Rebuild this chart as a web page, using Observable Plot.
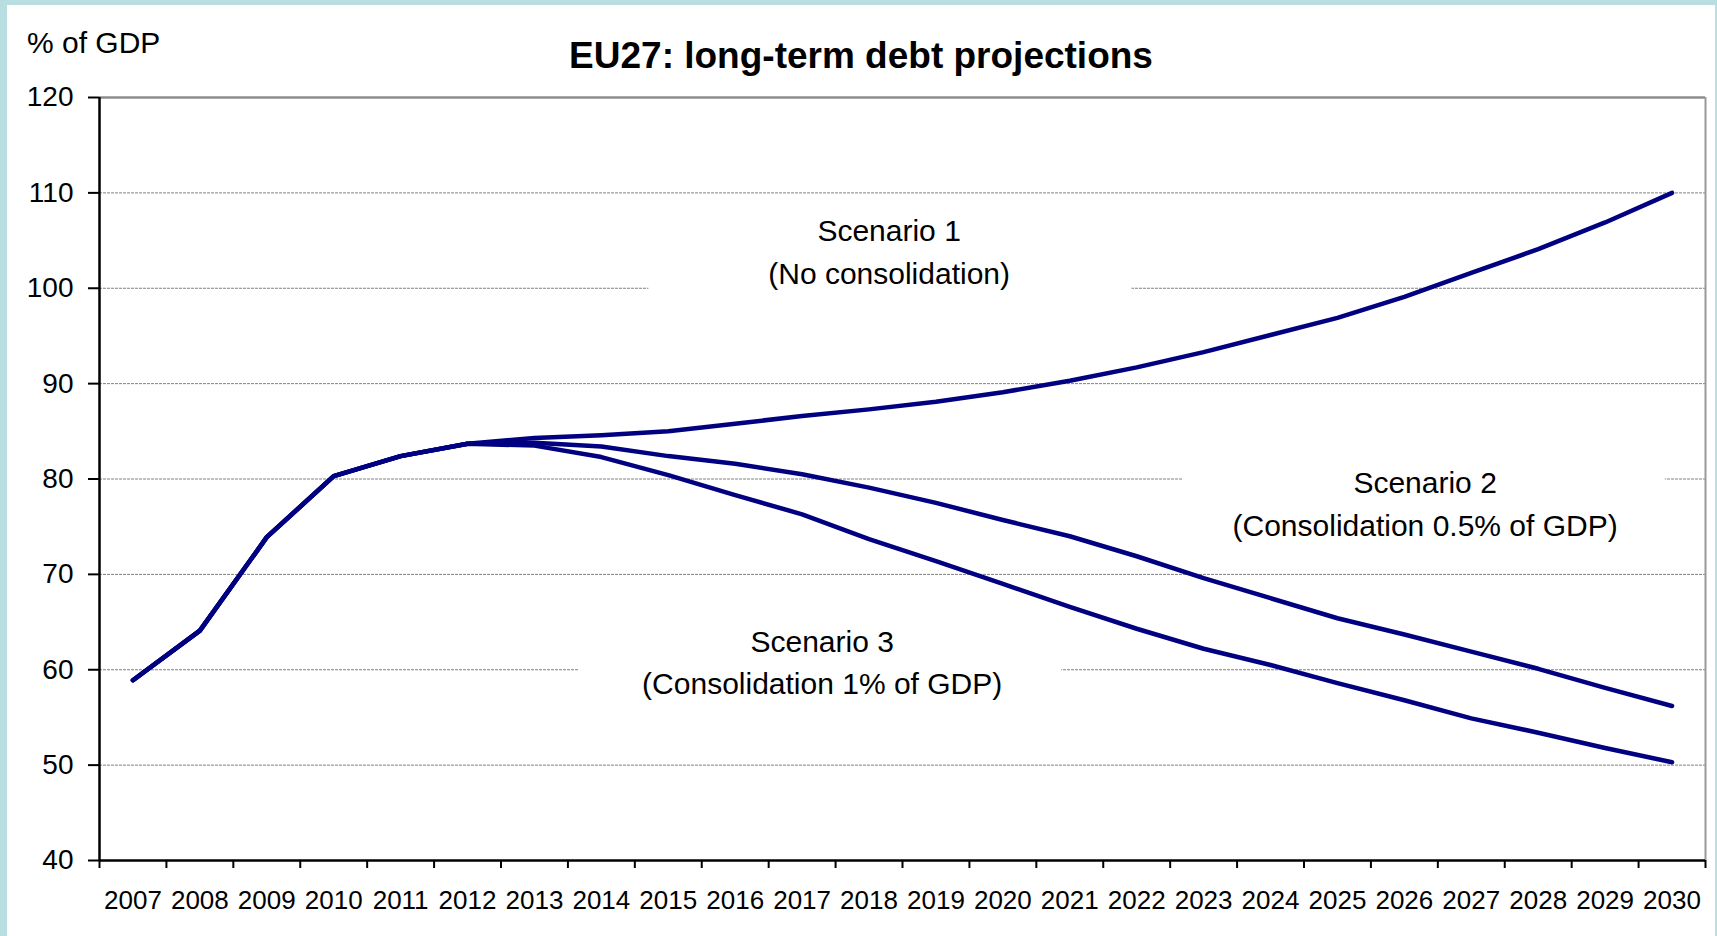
<!DOCTYPE html>
<html>
<head>
<meta charset="utf-8">
<title>EU27: long-term debt projections</title>
<script src="https://cdn.jsdelivr.net/npm/d3@7"></script>
<script src="https://cdn.jsdelivr.net/npm/@observablehq/plot@0.6"></script>
<style>
  html, body { margin: 0; padding: 0; }
  body {
    width: 1717px; height: 936px; overflow: hidden;
    background: #b8dee2;
    font-family: "Liberation Sans", Arial, sans-serif;
    position: relative;
  }
  #panel { position: absolute; left: 7px; top: 5px; width: 1708px; height: 940px; background: #ffffff; }
  #unit { position: absolute; left: 27px; top: 28px; font-size: 30px; line-height: 30px; color: #000; }
  #title { position: absolute; left: 0; width: 1722px; top: 37px; text-align: center; font-size: 37px; line-height: 37px; font-weight: bold; color: #000; }
  #chart { position: absolute; left: 0; top: 0; }
</style>
</head>
<body>
<div id="panel"></div>
<div id="unit">% of GDP</div>
<div id="title">EU27: long-term debt projections</div>
<div id="chart"></div>
<script>
// Years on the category axis
const years = d3.range(2007, 2031);

// Debt ratio, % of GDP: common history 2007-2012
const history = [58.9, 64.1, 73.9, 80.3, 82.4, 83.7];

// Projections 2013-2030
const scenario1 = [84.3, 84.6, 85.0, 85.8, 86.6, 87.3, 88.1, 89.1, 90.3, 91.7, 93.3, 95.1, 96.9, 99.1, 101.6, 104.1, 106.9, 110.0];
const scenario2 = [83.8, 83.4, 82.4, 81.6, 80.5, 79.1, 77.5, 75.7, 74.0, 71.9, 69.6, 67.5, 65.4, 63.7, 61.9, 60.1, 58.1, 56.2];
const scenario3 = [83.5, 82.3, 80.4, 78.3, 76.3, 73.7, 71.4, 69.0, 66.6, 64.3, 62.2, 60.5, 58.6, 56.8, 54.9, 53.4, 51.8, 50.3];

// Y axis ticks and gridlines
const yTicks = d3.range(40, 121, 10);
const gridValues = d3.range(50, 111, 10);

// Scenario captions (centre of the two-line block, and the white box behind it)
const captions = [
  {text: "Scenario 1\n(No consolidation)", x: 2018.3, y: 104.1, x1: 2014.71, x2: 2021.93, y1: 99, y2: 108},
  {text: "Scenario 2\n(Consolidation 0.5% of GDP)", x: 2026.31, y: 77.7, x1: 2022.69, x2: 2029.9, y1: 73, y2: 82},
  {text: "Scenario 3\n(Consolidation 1% of GDP)", x: 2017.3, y: 61.1, x1: 2013.66, x2: 2020.88, y1: 56, y2: 65}
];

const series = [
  {name: "Scenario 1", values: history.concat(scenario1)},
  {name: "Scenario 2", values: history.concat(scenario2)},
  {name: "Scenario 3", values: history.concat(scenario3)}
];
const rows = series.flatMap(s => s.values.map((v, i) => ({year: years[i], value: v, scenario: s.name})));

// Category boundaries carry the tick marks
const xLo = years[0] - 0.5, xHi = years[years.length - 1] + 0.5;
const boundaries = d3.range(xLo, xHi + 0.01, 1);

const chart = Plot.plot({
  width: 1717,
  height: 936,
  marginLeft: 99,
  marginRight: 12,
  marginTop: 97,
  marginBottom: 76,
  style: {background: "transparent", fontFamily: "'Liberation Sans', Arial, sans-serif", color: "#000", overflow: "visible"},
  x: {domain: [xLo, xHi]},
  y: {domain: [40, 120]},
  marks: [
    Plot.ruleY(gridValues, {stroke: "#808080", strokeWidth: 1, strokeDasharray: "3,1"}),
    Plot.ruleY([120], {stroke: "#8c8c8c", strokeWidth: 2.5}),
    Plot.ruleX([xHi], {stroke: "#999999", strokeWidth: 2}),
    Plot.rect(captions, {x1: "x1", x2: "x2", y1: "y1", y2: "y2", fill: "white"}),
    Plot.axisY({ticks: yTicks, tickSize: 11, tickPadding: 15, fontSize: 28, label: null, stroke: "#000", strokeWidth: 2}),
    Plot.axisX({ticks: boundaries, tickSize: 8, tickFormat: () => "", label: null, stroke: "#000", strokeWidth: 2}),
    Plot.axisX({ticks: years, tickSize: 0, tickPadding: 30, fontSize: 26, tickFormat: d => String(d), label: null}),
    Plot.ruleX([xLo], {stroke: "#000", strokeWidth: 2.5}),
    Plot.ruleY([40], {stroke: "#000", strokeWidth: 2.5}),
    Plot.line(rows, {x: "year", y: "value", z: "scenario", stroke: "#000080", strokeWidth: 4.5, strokeLinejoin: "round"}),
    Plot.text(captions, {x: "x", y: "y", text: "text", fontSize: 30, lineHeight: 1.42, fill: "#000"})
  ]
});
document.getElementById("chart").appendChild(chart);
</script>
</body>
</html>
